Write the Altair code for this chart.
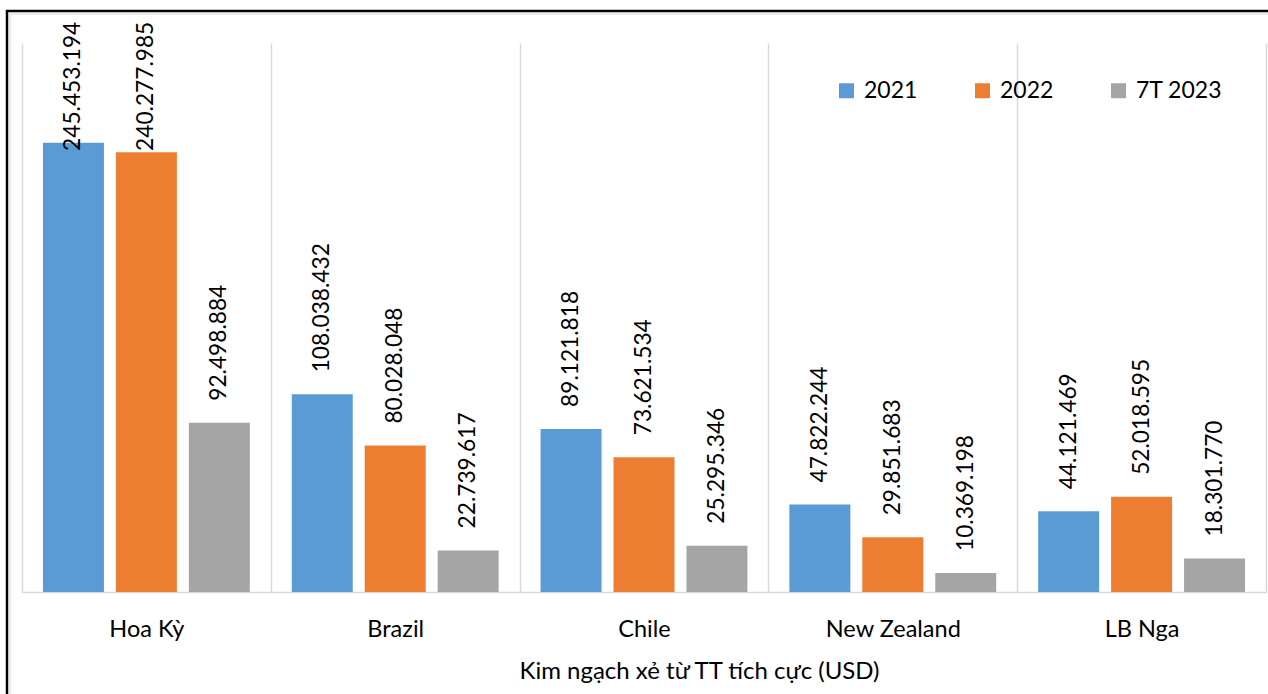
import altair as alt
import pandas as pd

countries = ["Hoa Kỳ", "Brazil", "Chile", "New Zealand", "LB Nga"]
series = ["2021", "2022", "7T 2023"]
v2021 = [245453194, 108038432, 89121818, 47822244, 44121469]
v2022 = [240277985, 80028048, 73621534, 29851683, 52018595]
v2023 = [92498884, 22739617, 25295346, 10369198, 18301770]
colors = ["#5B9BD5", "#ED7D31", "#A5A5A5"]

rows = []
for s, vals in zip(series, [v2021, v2022, v2023]):
    for c, v in zip(countries, vals):
        rows.append({"country": c, "series": s, "value": v})
df = pd.DataFrame(rows)

FONT = "Lato"
W, H = 1244, 549
YMAX = 300000000

yscale = alt.Scale(domain=[0, YMAX])

base = alt.Chart(df).encode(
    x=alt.X(
        "country:N",
        sort=countries,
        scale=alt.Scale(paddingInner=0, paddingOuter=0),
        axis=alt.Axis(
            title="Kim ngạch xẻ từ TT tích cực (USD)",
            tickBand="extent",
            grid=True,
            gridColor="#d9d9d9",
            gridWidth=1.5,
            domainColor="#d9d9d9",
            domainWidth=1.5,
            ticks=False,
            labelAngle=0,
            labelFont=FONT,
            labelFontSize=23.5,
            labelColor="#000000",
            labelPadding=25,
            titleFont=FONT,
            titleFontSize=24,
            titleFontWeight="normal",
            titleColor="#000000",
            titlePadding=19,
            titleX=677,
        ),
    ),
    xOffset=alt.XOffset(
        "series:N", sort=series, scale=alt.Scale(paddingInner=0.164, paddingOuter=0.2875)
    ),
)

bars = base.mark_bar().encode(
    y=alt.Y("value:Q", scale=yscale, axis=None),
    color=alt.Color(
        "series:N",
        sort=series,
        scale=alt.Scale(domain=series, range=colors),
        legend=alt.Legend(
            title=None,
            orient="none",
            legendX=813,
            legendY=36,
            direction="horizontal",
            symbolType="square",
            symbolSize=225,
            symbolStrokeWidth=0,
            labelFont=FONT,
            labelFontSize=23,
            labelColor="#000000",
            labelOffset=6,
            columnPadding=20,
            gridAlign="all",
            padding=0,
        ),
    ),
)

labels = base.mark_text(
    angle=270, align="left", baseline="middle", dx=22, font=FONT, fontSize=22.7, color="#000000"
).transform_calculate(
    label="replace(format(datum.value, ','), regexp(',', 'g'), '.')",
    ly="min(datum.value, 229000000)",
).encode(
    y=alt.Y("ly:Q", scale=yscale, axis=None),
    text="label:N",
)

dummy = pd.DataFrame({"a": [0]})
border_v = alt.Chart(dummy).mark_rule(color="black", strokeWidth=2.5).encode(
    x=alt.value(-15), y=alt.value(-33), y2=alt.value(660)
)
border_h = alt.Chart(dummy).mark_rule(color="black", strokeWidth=2.5).encode(
    x=alt.value(-16), x2=alt.value(1250), y=alt.value(-32)
)
inner_v = alt.Chart(dummy).mark_rule(color="#d9d9d9", strokeWidth=1).encode(
    x=alt.value(-12), y=alt.value(-29), y2=alt.value(660)
)
inner_h = alt.Chart(dummy).mark_rule(color="#d9d9d9", strokeWidth=1).encode(
    x=alt.value(-12), x2=alt.value(1250), y=alt.value(-29)
)

chart = alt.layer(bars, labels, inner_v, inner_h, border_v, border_h).properties(
    width=W,
    height=H,
    autosize="none",
    padding={"left": 22, "top": 43, "right": 2, "bottom": 102},
    background="white",
).configure_view(stroke=None)

chart.save("out.html", embed_options={"renderer": "svg", "actions": False})
